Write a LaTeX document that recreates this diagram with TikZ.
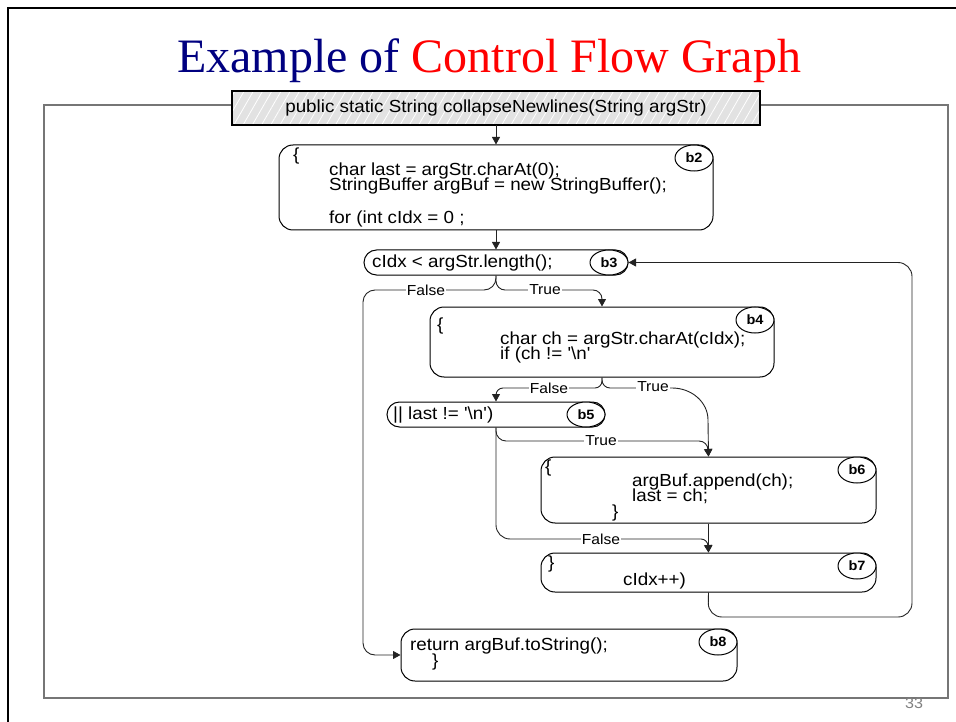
\documentclass[tikz,border=0pt]{standalone}
\usepackage{fontspec}
\usetikzlibrary{shapes.geometric,arrows.meta,patterns.meta}
\newfontfamily\codefont{Liberation Sans}[FakeStretch=1.075,Ligatures=TeXOff]
\newfontfamily\titlefont{Liberation Serif}
\definecolor{titlenavy}{RGB}{0,0,128}
\definecolor{framegray}{RGB}{118,118,118}
\definecolor{hdrfill}{RGB}{226,226,226}
\definecolor{wire}{RGB}{35,35,35}
\begin{document}
\begin{tikzpicture}[x=1pt,y=-1pt,
  block/.style={draw=black,line width=1pt,rounded corners=14pt,inner sep=0pt},
  pill/.style={draw=black,line width=1pt,rounded corners=12.5pt,inner sep=0pt,minimum height=25pt},
  tag/.style={ellipse,draw=black,line width=1pt,fill=white,inner sep=0pt,
              minimum width=38pt,minimum height=26pt,
              font=\codefont\bfseries\fontsize{13.5}{13.5}\selectfont},
  code/.style={anchor=base west,inner sep=0pt,font=\codefont\fontsize{17.5}{17.5}\selectfont},
  lbl/.style={fill=white,inner sep=1.2pt,font=\codefont\fontsize{14.5}{14.5}\selectfont},
  flow/.style={draw=wire,line width=0.9pt,-{Triangle[length=7.5pt,width=8pt]}}]
\useasboundingbox (0,0) rectangle (956,722);

% slide edge and outer frame
\draw[line width=2.5pt] (8,722) -- (8,8) -- (956,8);
\draw[framegray,line width=1.3pt] (44,105) rectangle (948,698);

% title
\node (title) [anchor=base west,inner sep=0pt,font=\titlefont\fontsize{48}{48}\selectfont]
  at (177,73) {\textcolor{titlenavy}{Example of} \textcolor{red}{Control Flow Graph}};

% method header
\node (hdr) [draw=black,line width=1.2pt,preaction={fill=hdrfill},
  pattern={Lines[angle=60,distance=8pt,line width=0.8pt]},pattern color=white,
  minimum width=528pt,minimum height=34pt,inner sep=0pt,
  font=\codefont\fontsize{17.5}{17.5}\selectfont]
  at (496,108) {public static String collapseNewlines(String argStr)};

% basic blocks
\node (b2) [block,minimum width=434pt,minimum height=85pt] at (496,187.5) {};
\node (b3) [pill,minimum width=264pt] at (496,262.5) {};
\node (b4) [block,minimum width=344pt,minimum height=70pt] at (602,342) {};
\node (b5) [pill,minimum width=218pt] at (496,414.5) {};
\node (b6) [block,minimum width=335pt,minimum height=66pt] at (708.5,490) {};
\node (b7) [block,minimum width=335pt,minimum height=39pt] at (708.5,572.5) {};
\node (b8) [block,minimum width=336pt,minimum height=52pt] at (569,655) {};

% block tags
\node (t2) [tag] at (694,158) {b2};
\node (t3) [tag,minimum height=25pt] at (609,262.5) {b3};
\node (t4) [tag] at (755,320) {b4};
\node (t5) [tag,minimum height=25pt] at (586,414.5) {b5};
\node (t6) [tag] at (857,470) {b6};
\node (t7) [tag] at (857,566) {b7};
\node (t8) [tag] at (718,642) {b8};

% block contents
\node (c2a) [code] at (293,161) {\{};
\node (c2b) [code] at (329,176) {char last = argStr.charAt(0);};
\node (c2c) [code] at (329,191) {StringBuffer argBuf = new StringBuffer();};
\node (c2d) [code] at (329,224) {for (int cIdx = 0 ;};
\node (c3a) [code] at (372,268) {cIdx < argStr.length();};
\node (c4a) [code] at (437,330) {\{};
\node (c4b) [code] at (500,344) {char ch = argStr.charAt(cIdx);};
\node (c4c) [code] at (500,359) {if (ch != '\textbackslash n'};
\node (c5a) [code] at (393,419) {|| last != '\textbackslash n')};
\node (c6a) [code] at (545,472) {\{};
\node (c6b) [code] at (632,486) {argBuf.append(ch);};
\node (c6c) [code] at (632,501) {last = ch;};
\node (c6d) [code] at (612,517) {\}};
\node (c7a) [code] at (548,568) {\}};
\node (c7b) [code] at (623,585) {cIdx++)};
\node (c8a) [code] at (410,650) {return argBuf.toString();};
\node (c8b) [code] at (432,666) {\}};

% control flow
\draw[flow] (hdr.south) -- (b2.north);
\draw[flow] (b2.south) -- (b3.north);
\draw[flow,rounded corners=12pt] (b3.south) -- (496,290) -- (363,290) -- (363,655) -- (b8.west);
\draw[flow,rounded corners=9pt] (b3.south) -- (496,290) -- (602,290) -- (b4.north);
\draw[flow,rounded corners=7pt] (b4.south) -- (602,388) -- (496,388) -- (b5.north);
\draw[flow] (b4.south) -- (602,380) .. controls (602,384.4) and (605.6,388) .. (610,388)
  -- (672,388) .. controls (691.9,388) and (708,402.3) .. (708,420) -- (b6.north);
\draw[flow] (b5.south) -- (496,431) .. controls (496,436.5) and (500.5,441) .. (506,441)
  -- (699,441) .. controls (704,441) and (708,445) .. (708,450) -- (b6.north);
\draw[flow] (b5.south) -- (496,525) .. controls (496,532.7) and (502.3,539) .. (510,539)
  -- (701,539) .. controls (704.9,539) and (708,542.1) .. (708,546) -- (b7.north);
\draw[flow] (b6.south) -- (b7.north);
\draw[flow,rounded corners=14pt] (b7.south) -- (708,617) -- (912,617) -- (912,262.5) -- (b3.east);

% branch labels
\node (f1) [lbl] at (426,290) {False};
\node (r1) [lbl] at (545,290) {True};
\node (f2) [lbl] at (549,388) {False};
\node (r2) [lbl] at (653,387) {True};
\node (r3) [lbl] at (601,441) {True};
\node (f3) [lbl] at (601,539) {False};

% page number
\node (pg) [anchor=base,inner sep=0pt,text=gray,font=\codefont\fontsize{15}{15}\selectfont]
  at (914,708) {33};
\end{tikzpicture}
\end{document}
